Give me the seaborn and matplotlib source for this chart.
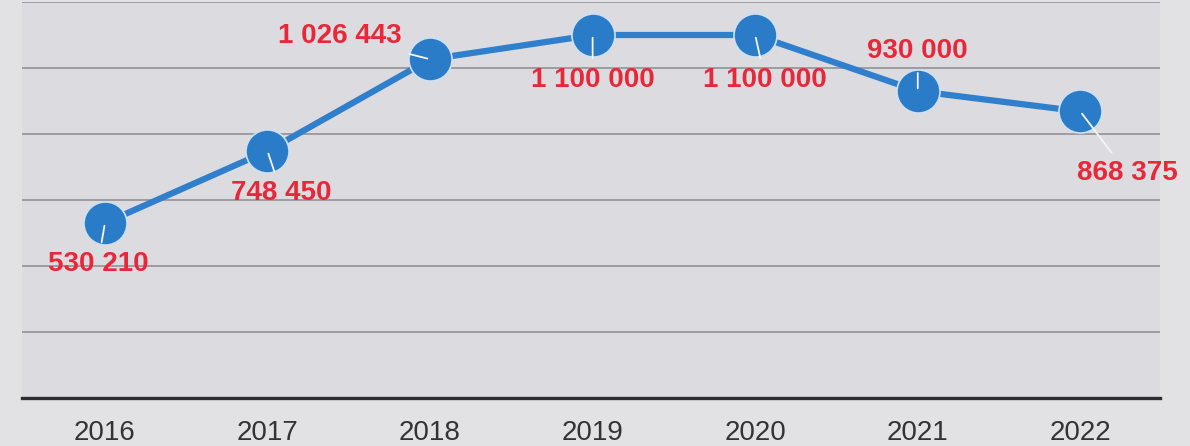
import matplotlib
matplotlib.use("Agg")
import matplotlib.pyplot as plt
import seaborn as sns

years = ["2016", "2017", "2018", "2019", "2020", "2021", "2022"]
values = [530210, 748450, 1026443, 1100000, 1100000, 930000, 868375]
value_labels = ["530 210", "748 450", "1 026 443", "1 100 000", "1 100 000", "930 000", "868 375"]

# where each value label sits relative to its point (pixels, y up)
label_offsets = [(-7, -41), (14, -42), (-90, 23), (0, -45), (10, -45), (0, 40), (47, -62)]


def main():
    sns.set_style("white")
    plt.rcParams["font.family"] = ["Liberation Sans", "DejaVu Sans"]

    fig = plt.figure(figsize=(11.9, 4.46), dpi=100, facecolor="#e2e2e5")
    ax = fig.add_axes([22 / 1190, 48 / 446, 1138 / 1190, 396 / 446])
    ax.set_facecolor("#dcdce0")

    sns.lineplot(x=years, y=values, ax=ax, color="#2f7fcc", lw=4.5,
                 marker="o", markersize=31, markerfacecolor="#2a7cc9",
                 markeredgecolor="#cfe0f0", markeredgewidth=1.2, zorder=3)

    # value labels with small white leader lines
    for i, (val, txt) in enumerate(zip(values, value_labels)):
        dx, dy = label_offsets[i]
        ax.annotate(txt, xy=(i, val), xytext=(dx, dy), textcoords="offset pixels",
                    ha="center", va="center", fontsize=20, fontweight="bold",
                    color="#e8283a", annotation_clip=False, zorder=5,
                    arrowprops=dict(arrowstyle="-", color="#f4f4f4", lw=1.3,
                                    shrinkA=4, shrinkB=2))

    ax.set_xlim(-0.51, 6.49)
    ax.set_ylim(0, 1200000)
    ax.set_yticks(range(0, 1200001, 200000))
    ax.set_yticklabels([])
    ax.yaxis.grid(True, color="#9d9da1", lw=1.4)
    ax.xaxis.grid(False)
    ax.set_axisbelow(True)

    for side in ["top", "right", "left"]:
        ax.spines[side].set_visible(False)
    ax.spines["bottom"].set_color("#2e2e2e")
    ax.spines["bottom"].set_linewidth(2.4)

    ax.tick_params(axis="x", length=0, pad=16, labelsize=20, labelcolor="#333333")
    ax.tick_params(axis="y", length=0)
    ax.set_xlabel("")
    ax.set_ylabel("")

    fig.savefig("out.png", dpi=100, facecolor=fig.get_facecolor())


if __name__ == "__main__":
    main()
